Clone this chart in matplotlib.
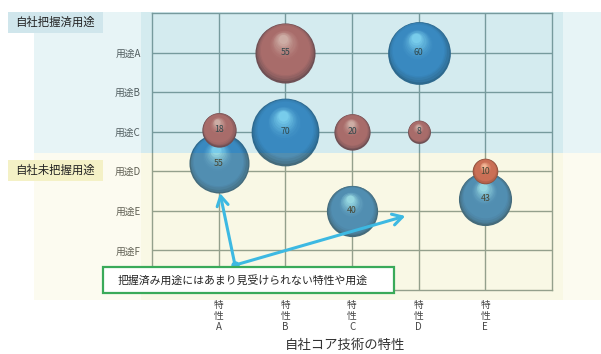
import numpy as np
import matplotlib
matplotlib.use("Agg")
import matplotlib.pyplot as plt
from matplotlib.patches import Rectangle
from matplotlib.transforms import ScaledTranslation

plt.rcParams['font.family'] = ['Noto Sans CJK JP', 'DejaVu Sans']

# データ
features = ['特\n性\nA', '特\n性\nB', '特\n性\nC', '特\n性\nD', '特\n性\nE']
uses = ['用途A', '用途B', '用途C', '用途D', '用途E', '用途F']

# 青いバブル (x=特性番号, y=用途番号)
blue_x = [4, 2, 1, 3, 5]
blue_y = [1, 3, 3.8, 5, 4.7]
blue_val = [60, 70, 55, 40, 43]

# 赤いバブル
red_x = [2, 1, 3, 4, 5]
red_y = [1, 2.95, 3, 3, 4]
red_val = [55, 18, 20, 8, 10]

note_text = '把握済み用途にはあまり見受けられない特性や用途'
note_start = (1.245, 6.37)
note_tips = [(1.02, 4.55), (3.8, 5.13)]

W, H = 601, 354
fig = plt.figure(figsize=(W / 100, H / 100), dpi=100)
fig.patch.set_facecolor('white')


def fx(px):
    return px / W


def fy(py):
    return 1 - py / H


ax = fig.add_axes([fx(152), fy(290), fx(400), 277 / H])
ax.set_facecolor('white')
ax.set_xlim(0, 6)
ax.set_ylim(7, 0)
ax.set_xticks(range(1, 6))
ax.set_xticklabels(features, fontsize=7, color='#444', linespacing=1.15)
ax.set_yticks(range(1, 7))
ax.set_yticklabels(uses, fontsize=7, color='#555')
ax.tick_params(length=0)
ax.tick_params(axis='y', pad=8)
ax.tick_params(axis='x', pad=7)
ax.grid(True, color='#8a9a98', lw=1.0)
ax.set_axisbelow(True)
for sp in ax.spines.values():
    sp.set_color('#8a9a98')
    sp.set_linewidth(1.0)


def mix(c1, c2, t):
    return tuple(np.array(c1) * (1 - t) + np.array(c2) * t)


def bubble(x, y, v, edge, base, light, z):
    r = 0.72 * 4.05 * np.sqrt(v)
    n = 20
    for i in range(n):
        t = i / (n - 1)
        rr = r * (1 - 0.85 * t)
        dx = -0.08 * r * t
        dy = 0.45 * r * t
        if t < 0.2:
            col = mix(edge, base, (t / 0.2) ** 0.7)
        elif t < 0.55:
            col = base
        else:
            col = mix(base, light, ((t - 0.55) / 0.45) ** 1.5)
        tr = ax.transData + ScaledTranslation(dx / 72, dy / 72, fig.dpi_scale_trans)
        ax.scatter([x], [y], s=(2 * rr) ** 2, color=[col], linewidths=0,
                   transform=tr, zorder=z + i * 0.01, clip_on=False)
    ax.text(x, y, str(v), ha='center', va='center', fontsize=6.3,
            color='#333333', zorder=z + 0.5)


for x, y, v in zip(blue_x, blue_y, blue_val):
    bubble(x, y, v, (0.18, 0.36, 0.52), (0.24, 0.52, 0.77), (0.55, 0.85, 0.98), 3)
for x, y, v in zip(red_x, red_y, red_val):
    bubble(x, y, v, (0.50, 0.24, 0.24), (0.79, 0.38, 0.35), (0.97, 0.70, 0.64), 5)

# 半透明の帯
blue_c = (0.175, 0.625, 0.705)
yellow_c = (0.85, 0.82, 0.25)
for c, y0, y1, a1, a2 in [(blue_c, 12, 153, 0.11, 0.10), (yellow_c, 153, 300, 0.08, 0.06)]:
    fig.add_artist(Rectangle((fx(34), fy(y1)), fx(601 - 34), (y1 - y0) / H,
                             transform=fig.transFigure, facecolor=c,
                             alpha=a1, edgecolor='none', zorder=1))
    fig.add_artist(Rectangle((fx(141), fy(y1)), fx(563 - 141), (y1 - y0) / H,
                             transform=fig.transFigure, facecolor=c,
                             alpha=a2, edgecolor='none', zorder=1))

# 左のラベル
for txt, y0, c in [('自社把握済用途', 12, '#d0e6ec'), ('自社未把握用途', 160, '#f4f1c6')]:
    fig.add_artist(Rectangle((fx(8), fy(y0 + 21)), fx(95), 21 / H,
                             transform=fig.transFigure, facecolor=c,
                             edgecolor='none', zorder=2))
    fig.text(fx(15), fy(y0 + 10.5), txt, fontsize=8.2, color='#222222',
             va='center', ha='left', zorder=3)

# 注釈
ax2 = fig.add_axes(ax.get_position(), zorder=2)
ax2.set_xlim(ax.get_xlim())
ax2.set_ylim(ax.get_ylim())
ax2.axis('off')
for tip in note_tips:
    ax2.annotate('', xy=tip, xytext=note_start,
                 arrowprops=dict(arrowstyle='->,head_length=0.7,head_width=0.4',
                                 color='#3db9e2', lw=2.2, shrinkA=0, shrinkB=0))
ax2.plot([note_start[0]], [note_start[1]], 'o', color='#3db9e2', ms=5, zorder=5)

fig.add_artist(Rectangle((fx(103), fy(293)), fx(291), 26 / H,
                         transform=fig.transFigure, facecolor='white',
                         edgecolor='#3aaa5a', lw=1.6, zorder=3))
fig.text(fx(118), fy(280), note_text, fontsize=7.8, color='#222222',
         va='center', ha='left', zorder=4)

fig.text(fx(345), fy(345), '自社コア技術の特性', fontsize=9.6, color='#333333',
         ha='center', va='center', zorder=3)

fig.savefig('out.png', dpi=100)
